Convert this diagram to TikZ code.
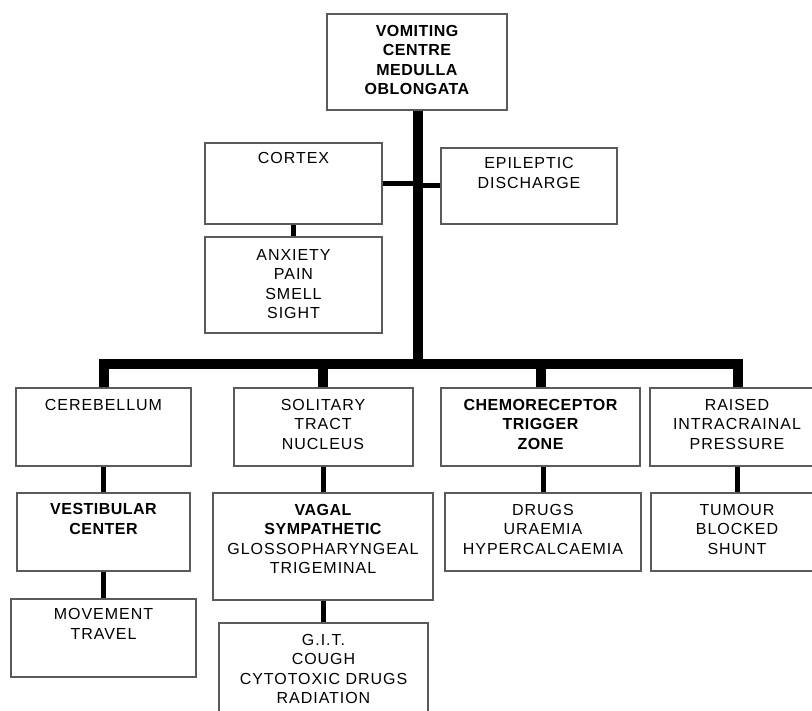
\documentclass[tikz,border=0pt]{standalone}
\usepackage{fontspec}
\setmainfont{Liberation Sans}[LetterSpace=6]
\newfontfamily\boldfam{Liberation Sans}[LetterSpace=3]
\newcommand{\bt}[1]{{\boldfam\bfseries #1}}
\definecolor{boxgray}{HTML}{5A5A5A}
\tikzset{
  box/.style={draw=boxgray, line width=2pt, rectangle, inner sep=0pt},
  txt/.style={align=center, font=\fontsize{16}{19.5}\selectfont, inner sep=0pt},
  busline/.style={line width=10pt, line join=miter, black},
  linkline/.style={line width=5pt, black},
}
\begin{document}
\begin{tikzpicture}[x=1pt,y=-1pt]
\useasboundingbox (0,0) rectangle (812,711);
\clip (0,0) rectangle (812,711);
\fill[white] (0,0) rectangle (812,711);
% boxes
\node[box, minimum width=180pt, minimum height=96pt] (top) at (417,62) {};
\node[box, minimum width=177pt, minimum height=81pt] (cortex) at (293.5,183.5) {};
\node[box, minimum width=176pt, minimum height=76pt] (epi) at (529,186) {};
\node[box, minimum width=177pt, minimum height=96pt] (anx) at (293.5,285) {};
\node[box, minimum width=175pt, minimum height=78pt] (cereb) at (103.5,427) {};
\node[box, minimum width=179pt, minimum height=78pt] (sol) at (323,427) {};
\node[box, minimum width=199pt, minimum height=78pt] (chemo) at (540.5,427) {};
\node[box, minimum width=176pt, minimum height=78pt] (raised) at (738,427) {};
\node[box, minimum width=173pt, minimum height=78pt] (vest) at (103.5,532) {};
\node[box, minimum width=185pt, minimum height=78pt] (move) at (103.5,638) {};
\node[box, minimum width=220pt, minimum height=107pt] (vagal) at (323,546.5) {};
\node[box, minimum width=209pt, minimum height=110pt] (git) at (323.5,678) {};
\node[box, minimum width=196pt, minimum height=78pt] (drugs) at (543,532) {};
\node[box, minimum width=172pt, minimum height=78pt] (tumour) at (737,532) {};
% texts
\node[txt] (ttop) at (417,60) {\bt{VOMITING}\\\bt{CENTRE}\\\bt{MEDULLA}\\\bt{OBLONGATA}};
\node[txt] (tcortex) at (293.5,158) {CORTEX};
\node[txt] (tepi) at (529,173) {EPILEPTIC\\DISCHARGE};
\node[txt] (tanx) at (293.5,284) {ANXIETY\\PAIN\\SMELL\\SIGHT};
\node[txt] (tcereb) at (103.5,405) {CEREBELLUM};
\node[txt] (tsol) at (323,424) {SOLITARY\\TRACT\\NUCLEUS};
\node[txt] (tchemo) at (540.5,424) {\bt{CHEMORECEPTOR}\\\bt{TRIGGER}\\\bt{ZONE}};
\node[txt] (traised) at (737,424) {RAISED\\INTRACRAINAL\\PRESSURE};
\node[txt] (tvest) at (103.5,519) {\bt{VESTIBULAR}\\\bt{CENTER}};
\node[txt] (tvagal) at (323,539) {\bt{VAGAL}\\\bt{SYMPATHETIC}\\GLOSSOPHARYNGEAL\\TRIGEMINAL};
\node[txt] (tmove) at (103.5,624) {MOVEMENT\\TRAVEL};
\node[txt] (tgit) at (323.5,669) {G.I.T.\\COUGH\\CYTOTOXIC DRUGS\\RADIATION};
\node[txt] (tdrugs) at (543,529) {DRUGS\\URAEMIA\\HYPERCALCAEMIA};
\node[txt] (ttumour) at (737,529) {TUMOUR\\BLOCKED\\SHUNT};
% connectors
\coordinate (bus) at (418,364);
\draw[busline] (top.south -| bus) -- (bus);
\draw[busline] (cereb.north) |- (raised.north |- bus) -- (raised.north);
\draw[busline] (sol.north) -- (sol.north |- bus);
\draw[busline] (chemo.north) -- (chemo.north |- bus);
\draw[linkline] (cortex.east) -- (cortex.east -| bus);
\draw[linkline] (epi.west) -- (epi.west -| bus);
\draw[line width=4.5pt] (cortex.south) -- (anx.north);
\draw[linkline] (cereb.south) -- (cereb.south |- vest.north);
\draw[linkline] (vest.south) -- (vest.south |- move.north);
\draw[linkline] (sol.south) -- (sol.south |- vagal.north);
\draw[linkline] (vagal.south) -- (vagal.south |- git.north);
\draw[linkline] (drugs.north |- chemo.south) -- (drugs.north);
\draw[linkline] (tumour.north |- raised.south) -- (tumour.north);
\end{tikzpicture}
\end{document}
